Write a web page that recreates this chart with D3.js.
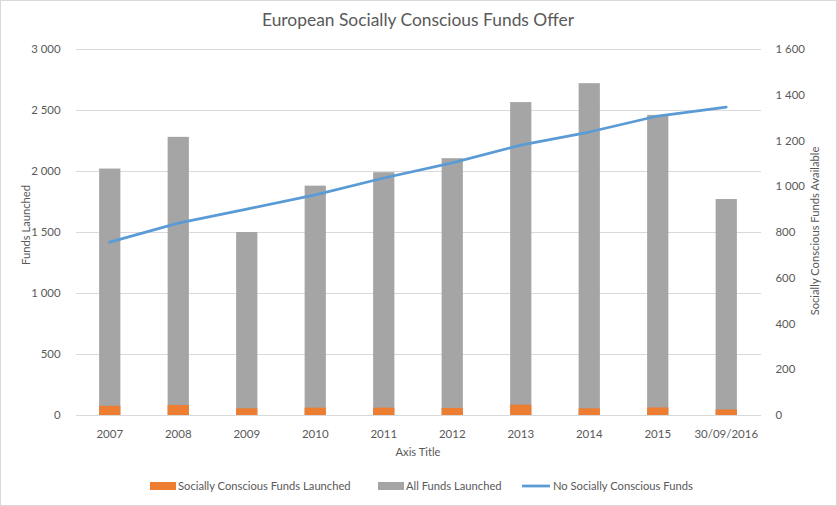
<!DOCTYPE html>
<html><head><meta charset="utf-8">
<script src="https://cdn.jsdelivr.net/npm/d3@7"></script>
<style>body{margin:0;background:#fff}svg{display:block}text{font-family:Lato,sans-serif;fill:#595959}</style>
</head><body><svg id="c" width="837" height="506"></svg>
<script>
const categories = ["2007","2008","2009","2010","2011","2012","2013","2014","2015","30/09/2016"];
const sociallyLaunched = [75, 82, 55, 60, 60, 58, 85, 55, 62, 45];
const allLaunched = [2020, 2280, 1500, 1880, 1990, 2105, 2565, 2720, 2460, 1770];
const scAvailable = [756, 839, 900, 962, 1036, 1102, 1180, 1237, 1307, 1346];
const leftTicks = [0, 500, 1000, 1500, 2000, 2500, 3000];
const rightTicks = [0, 200, 400, 600, 800, 1000, 1200, 1400, 1600];
const seriesNames = ["Socially Conscious Funds Launched", "All Funds Launched", "No Socially Conscious Funds"];
const colors = ["#ED7D31", "#A5A5A5", "#5B9BD5"];

const svg = d3.select("#c");
const W = 837, H = 506;
const m = {l: 75.5, r: 760.5, t: 49, b: 415};
const fmt = v => d3.format(",")(v).replace(/,/g, " ");
const FF = "Lato", FS = 11.2;

svg.append("rect").attr("x",0.5).attr("y",0.5).attr("width",W-1).attr("height",H-1).attr("fill","#fff").attr("stroke","#d9d9d9");

const x = d3.scaleBand().domain(categories).range([m.l, m.r]).paddingInner(0.69).paddingOuter(0.345);
const yL = d3.scaleLinear().domain([0, 3000]).range([m.b, m.t]);
const yR = d3.scaleLinear().domain([0, 1600]).range([m.b, m.t]);

// gridlines
const gl = d3.axisLeft(yL).tickValues(leftTicks).tickSize(-(m.r - m.l)).tickFormat("");
svg.append("g").attr("transform",`translate(${m.l},0)`).call(gl)
  .call(g=>g.select(".domain").remove())
  .call(g=>g.selectAll("line").attr("stroke","#d9d9d9").attr("shape-rendering","crispEdges"));

// left axis labels
svg.append("g").attr("transform",`translate(${m.l - 12},0)`)
  .call(d3.axisLeft(yL).tickValues(leftTicks).tickSize(0).tickFormat(fmt))
  .call(g=>g.select(".domain").remove())
  .call(g=>g.selectAll("text").attr("font-size",FS+0.2).attr("fill","#595959").style("font-family",FF));

// right axis labels
svg.append("g").attr("transform",`translate(${m.r + 12},0)`)
  .call(d3.axisRight(yR).tickValues(rightTicks).tickSize(0).tickFormat(fmt))
  .call(g=>g.select(".domain").remove())
  .call(g=>g.selectAll("text").attr("font-size",FS+0.2).attr("fill","#595959").style("font-family",FF));

// bars
svg.append("g").selectAll("rect").data(allLaunched).join("rect")
  .attr("x",(d,i)=>x(categories[i])).attr("width",x.bandwidth())
  .attr("y",d=>yL(d)).attr("height",d=>yL(0)-yL(d)).attr("fill",colors[1]);
svg.append("g").selectAll("rect").data(sociallyLaunched).join("rect")
  .attr("x",(d,i)=>x(categories[i])).attr("width",x.bandwidth())
  .attr("y",d=>yL(d)).attr("height",d=>yL(0)-yL(d)).attr("fill",colors[0]);

// x axis
svg.append("g").attr("transform",`translate(0,${m.b})`)
  .call(d3.axisBottom(x).tickSize(0).tickPadding(15))
  .call(g=>g.select(".domain").attr("stroke","#d9d9d9"))
  .call(g=>g.selectAll("text").attr("font-size",FS+0.3).attr("fill","#595959").style("font-family",FF));

// line
const line = d3.line().x((d,i)=>x(categories[i]) + x.bandwidth()/2).y(d=>yR(d));
svg.append("path").datum(scAvailable).attr("d",line).attr("fill","none")
  .attr("stroke",colors[2]).attr("stroke-width",2.75).attr("stroke-linejoin","round").attr("stroke-linecap","round");

// titles
svg.append("text").attr("x",418).attr("y",26).attr("text-anchor","middle").attr("font-size",17.4).text("European Socially Conscious Funds Offer");
svg.append("text").attr("x",418).attr("y",456).attr("text-anchor","middle").attr("font-size",FS).text("Axis Title");
svg.append("text").attr("transform","translate(30,225) rotate(-90)").attr("text-anchor","middle").attr("font-size",FS).text("Funds Launched");
svg.append("text").attr("transform","translate(819,231) rotate(-90)").attr("text-anchor","middle").attr("font-size",FS).text("Socially Conscious Funds Available");

// legend
const lg = svg.append("g");
const legX = [150, 378, 522];
seriesNames.forEach((n,i)=>{
  if(i<2) lg.append("rect").attr("x",legX[i]).attr("y",482).attr("width",26).attr("height",8).attr("fill",colors[i]);
  else lg.append("line").attr("x1",legX[i]).attr("x2",legX[i]+28).attr("y1",486).attr("y2",486).attr("stroke",colors[i]).attr("stroke-width",2.75);
  lg.append("text").attr("x",legX[i] + (i<2?28:31)).attr("y",490).attr("font-size",FS).text(n);
});
</script></body></html>
